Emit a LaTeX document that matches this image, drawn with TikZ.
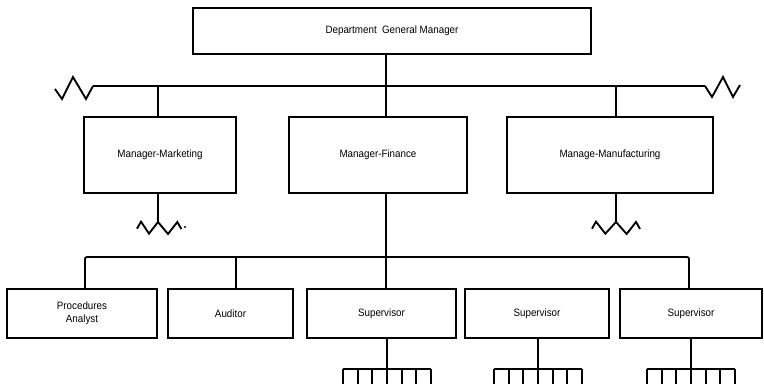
\documentclass[tikz,border=0pt]{standalone}
\usepackage{fontspec}
\setmainfont{Liberation Sans}[FakeStretch=0.92]
\begin{document}
\begin{tikzpicture}[x=0.75pt,y=-0.75pt,
  line join=miter,
  wire/.style={line width=1.4pt},
  orgbox/.style={draw,line width=1.5pt,fill=white,inner sep=2pt,align=center,
    font=\fontsize{8}{10}\selectfont}]
\useasboundingbox (0,0) rectangle (764,384);

% boxes
\node[orgbox,minimum width=298.5pt,minimum height=34.5pt] (dgm) at (392,31) {Department\enspace General Manager};

\node[orgbox,minimum width=114pt,minimum height=57pt] (mkt) at (160,155) {Manager-Marketing};
\node[orgbox,minimum width=133.5pt,minimum height=57pt] (fin) at (378,155) {Manager-Finance};
\node[orgbox,minimum width=154.5pt,minimum height=57pt] (mfg) at (610,155) {Manage-Manufacturing};

\node[orgbox,minimum width=112.5pt,minimum height=36.75pt] (pa) at (82,313.5) {Procedures\\Analyst};
\node[orgbox,minimum width=93.75pt,minimum height=36.75pt] (aud) at (230.5,313.5) {Auditor};
\node[orgbox,minimum width=111.75pt,minimum height=36.75pt] (s1) at (381.5,313.5) {Supervisor};
\node[orgbox,minimum width=108pt,minimum height=36.75pt] (s2) at (537,313.5) {Supervisor};
\node[orgbox,minimum width=106.5pt,minimum height=36.75pt] (s3) at (691,313.5) {Supervisor};

% upper bus
\coordinate (busL) at (93,86);
\coordinate (busR) at (705,86);
\coordinate (tTop) at (386,86);
\coordinate (tMkt) at (158,86);
\coordinate (tMfg) at (616,86);
\draw[wire] (busL) -- (busR);
\draw[wire] (dgm.south -| tTop) -- (tTop) -- (fin.north -| tTop);
\draw[wire] (tMkt) -- (mkt.north -| tMkt);
\draw[wire] (tMfg) -- (mfg.north -| tMfg);

% broken ends of the upper bus
\draw[wire] (busL) -- ++(-7,13) -- ++(-13,-22) -- ++(-11,22) -- ++(-7,-10);
\draw[wire] (busR) -- ++(7,11) -- ++(11,-20) -- ++(10,20) -- ++(7,-12);

% broken lines below marketing and manufacturing
\coordinate (zMkt) at (158,222);
\draw[wire] (mkt.south -| zMkt) -- (zMkt);
\draw[wire] ([xshift=-15.75pt,yshift=-5pt]zMkt) -- ++(3pt,5.25pt) -- ++(6pt,-9pt)
  -- (zMkt) -- ++(7.5pt,-9pt) -- ++(7pt,9pt) -- ++(3pt,-5.25pt);
\fill (185,227) circle[radius=0.9pt];
\coordinate (zMfg) at (616,222);
\draw[wire] (mfg.south -| zMfg) -- (zMfg);
\draw[wire] ([xshift=-18pt,yshift=-5pt]zMfg) -- ++(3pt,5.25pt) -- ++(7pt,-9pt)
  -- (zMfg) -- ++(8pt,-9pt) -- ++(7pt,9pt) -- ++(3pt,-5.25pt);

% lower bus
\coordinate (lbL) at (85,257);
\coordinate (lbR) at (689,257);
\coordinate (lbF) at (386,257);
\coordinate (lbA) at (236,257);
\draw[wire] (fin.south -| lbF) -- (lbF) -- (s1.north -| lbF);
\draw[wire,rounded corners=1.5pt] (pa.north -| lbL) -- (lbL) -- (lbR) -- (s3.north -| lbR);
\draw[wire] (lbA) -- (aud.north -| lbA);

% subordinate combs under each supervisor
\foreach \s/\v in {s1/387,s2/538,s3/691}{
  \coordinate (c\s) at (\v,369);
  \draw[wire] (\s.south -| c\s) -- (c\s);
  \draw[wire] ([xshift=-33pt]c\s) -- ([xshift=33pt]c\s);
  \foreach \k in {-3,...,3}{
    \draw[wire] ([xshift=\k*11pt]c\s) -- ++(0,16);
  }
}
\end{tikzpicture}
\end{document}
